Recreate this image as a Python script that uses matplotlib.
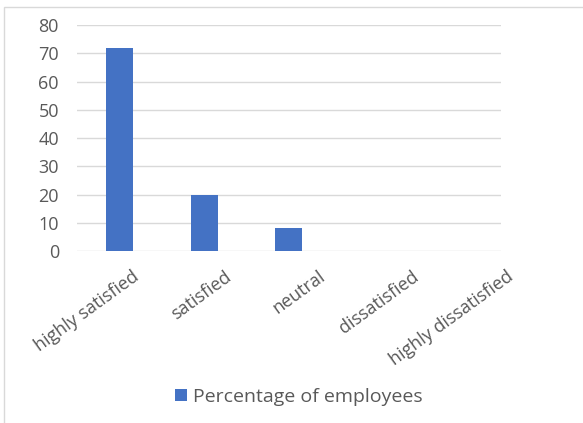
import numpy as np
import matplotlib.pyplot as plt
from matplotlib.patches import Rectangle
from matplotlib.transforms import ScaledTranslation

categories = ['highly satisfied', 'satisfied', 'neutral', 'dissatisfied', 'highly dissatisfied']
values = [72, 20, 8, 0, 0]
series_name = 'Percentage of employees'

plt.rcParams['font.family'] = ['Open Sans', 'DejaVu Sans']

fig = plt.figure(figsize=(5.83, 4.23), dpi=100)
ax = fig.add_axes([0.132, 0.4066, 0.727, 0.534])

x = np.arange(len(categories))
ax.bar(x, values, width=0.32, color='#4472C4', label=series_name, zorder=3)

ax.set_xlim(-0.5, len(categories) - 0.5)
ax.set_ylim(0, 80)
ax.set_yticks(np.arange(0, 81, 10))
ax.grid(axis='y', color='#d9d9d9', linewidth=1, zorder=0)
for s in ax.spines.values():
    s.set_visible(False)
ax.tick_params(length=0, colors='#595959', labelsize=13)
ax.tick_params(axis='y', pad=13)
ax.tick_params(axis='x', pad=12)
ax.set_xticks(x)
ax.set_xticklabels(categories, rotation=36, ha='right', va='top', rotation_mode='anchor')

# labels drift right in the original
shift_px = [12, 20, 29, 38, 48]
for lbl, dx in zip(ax.get_xticklabels(), shift_px):
    lbl.set_transform(lbl.get_transform() + ScaledTranslation(dx / 100, 0, fig.dpi_scale_trans))

# outer chart frame
fig.patches.append(Rectangle((4 / 583, -0.01), 1.0, 1 - 7 / 423 + 0.01,
                             transform=fig.transFigure, fill=False,
                             edgecolor='#d9d9d9', linewidth=1))

fig.legend(loc='center', bbox_to_anchor=(0.512, 0.0615), frameon=False,
           fontsize=14, labelcolor='#595959', handlelength=0.62, handleheight=0.62,
           handletextpad=0.3)

fig.savefig('out.png', dpi=100)
